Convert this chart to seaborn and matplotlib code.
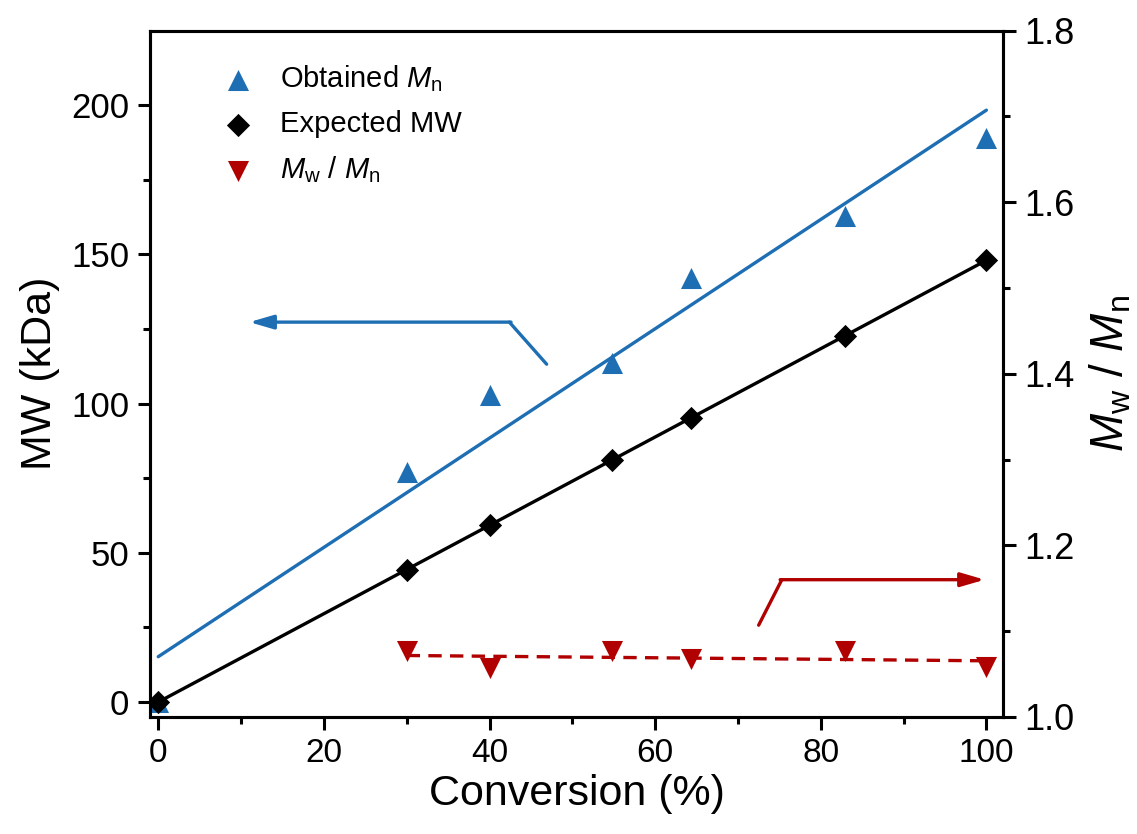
import numpy as np
import pandas as pd
import matplotlib
matplotlib.use("Agg")
import matplotlib.pyplot as plt
import seaborn as sns

# ---- data ----
conv_obtained = [0, 30, 40, 54.8, 64.3, 82.9, 100]
mn_obtained = [0, 77, 103, 113.6, 142, 163, 189]
conv_expected = [0, 30, 40, 54.8, 64.3, 82.9, 100]
mw_expected = [0, 44.4, 59.2, 81.1, 95.2, 122.7, 148]
conv_pdi = [30, 40, 54.8, 64.3, 82.9, 100]
pdi = [1.077, 1.057, 1.077, 1.067, 1.077, 1.058]

x_ticks = [0, 20, 40, 60, 80, 100]
y_ticks = [0, 50, 100, 150, 200]
y2_ticks = [1.0, 1.2, 1.4, 1.6, 1.8]

BLUE = "#1E6EB4"
RED = "#B00000"

sns.set_theme(style="ticks")
plt.rcParams["font.family"] = ["Liberation Sans", "DejaVu Sans"]
plt.rcParams["mathtext.fontset"] = "custom"
plt.rcParams["mathtext.rm"] = "Liberation Sans"
plt.rcParams["mathtext.it"] = "Liberation Sans:italic"
plt.rcParams["mathtext.bf"] = "Liberation Sans:bold"
plt.rcParams["text.color"] = "black"
plt.rcParams["axes.labelcolor"] = "black"
plt.rcParams["xtick.color"] = "black"
plt.rcParams["ytick.color"] = "black"
plt.rcParams["xtick.labelcolor"] = "black"
plt.rcParams["ytick.labelcolor"] = "black"

df_obt = pd.DataFrame({"conv": conv_obtained, "mn": mn_obtained})
df_exp = pd.DataFrame({"conv": conv_expected, "mw": mw_expected})
df_pdi = pd.DataFrame({"conv": conv_pdi, "pdi": pdi})

fig = plt.figure(figsize=(11.37, 8.34), dpi=100)
ax = fig.add_axes([0.1319, 0.1403, 0.7502, 0.8231])
ax2 = ax.twinx()

sns.regplot(data=df_obt, x="conv", y="mn", ax=ax, ci=None, truncate=True,
            marker="^", color=BLUE, label=r"Obtained $\mathit{M}_\mathrm{n}$",
            scatter_kws={"s": 230, "linewidths": 0, "zorder": 3, "alpha": 1},
            line_kws={"lw": 2.4, "zorder": 2})
sns.regplot(data=df_exp, x="conv", y="mw", ax=ax, ci=None, truncate=True,
            marker="D", color="black", label="Expected MW",
            scatter_kws={"s": 140, "linewidths": 0, "zorder": 5, "alpha": 1},
            line_kws={"lw": 2.4, "zorder": 4})
sns.regplot(data=df_pdi, x="conv", y="pdi", ax=ax2, ci=None, truncate=True,
            marker="v", color=RED, label=r"$\mathit{M}_\mathrm{w}$ / $\mathit{M}_\mathrm{n}$",
            scatter_kws={"s": 230, "linewidths": 0, "zorder": 3, "alpha": 1},
            line_kws={"lw": 2.4, "ls": (0, (4, 2.5)), "zorder": 2})

ax.set_xlim(-1, 102)
ax.set_ylim(-5, 225)
ax2.set_ylim(1.0, 1.8)
ax.set_xticks(x_ticks)
ax.set_yticks(y_ticks)
ax2.set_yticks(y2_ticks)
ax.set_xticks([10, 30, 50, 70, 90], minor=True)
ax.set_yticks([25, 75, 125, 175], minor=True)
ax2.set_yticks([1.1, 1.3, 1.5, 1.7], minor=True)
ax2.set_yticklabels([f"{v:.1f}" for v in y2_ticks])

for a in (ax, ax2):
    for s in a.spines.values():
        s.set_visible(True)
        s.set_linewidth(2.2)
        s.set_color("black")
    a.tick_params(which="major", direction="out", length=9, width=2.2,
                  color="black", labelcolor="black", pad=6)
    a.tick_params(which="minor", direction="out", length=5, width=2.2, color="black")
ax.tick_params(axis="x", labelsize=24)
ax.tick_params(axis="y", labelsize=25)
ax2.tick_params(axis="y", labelsize=26)
ax.tick_params(axis="y", which="both", right=False)
ax.tick_params(axis="x", which="both", top=False)
ax2.tick_params(axis="y", which="both", left=False, right=True)

ax.set_xlabel("Conversion (%)", fontsize=31, labelpad=4, color="black")
ax.set_ylabel("MW (kDa)", fontsize=31, labelpad=8, color="black")
ax2.set_ylabel(r"$\mathit{M}_\mathrm{w}$ / $\mathit{M}_\mathrm{n}$", fontsize=33,
               labelpad=10, color="black")

# arrows
ax.plot([46.9, 42.4], [113.2, 127.3], color=BLUE, lw=2.4)
ax.annotate("", xy=(11.0, 127.3), xytext=(42.6, 127.3),
            arrowprops=dict(arrowstyle="-|>,head_length=1.2,head_width=0.35",
                            color=BLUE, lw=2.4, shrinkA=0, shrinkB=0))
ax2.plot([72.5, 75.3], [1.107, 1.16], color=RED, lw=2.4)
ax2.annotate("", xy=(99.8, 1.16), xytext=(75.1, 1.16),
             arrowprops=dict(arrowstyle="-|>,head_length=1.2,head_width=0.35",
                             color=RED, lw=2.4, shrinkA=0, shrinkB=0))

h1, l1 = ax.get_legend_handles_labels()
h2, l2 = ax2.get_legend_handles_labels()
leg = ax2.legend(h1 + h2, l1 + l2, loc="upper left", bbox_to_anchor=(0.052, 0.99),
                 frameon=False, fontsize=21, handletextpad=0.85, labelspacing=0.55,
                 handlelength=1.2)

fig.savefig("out.png", dpi=100)
